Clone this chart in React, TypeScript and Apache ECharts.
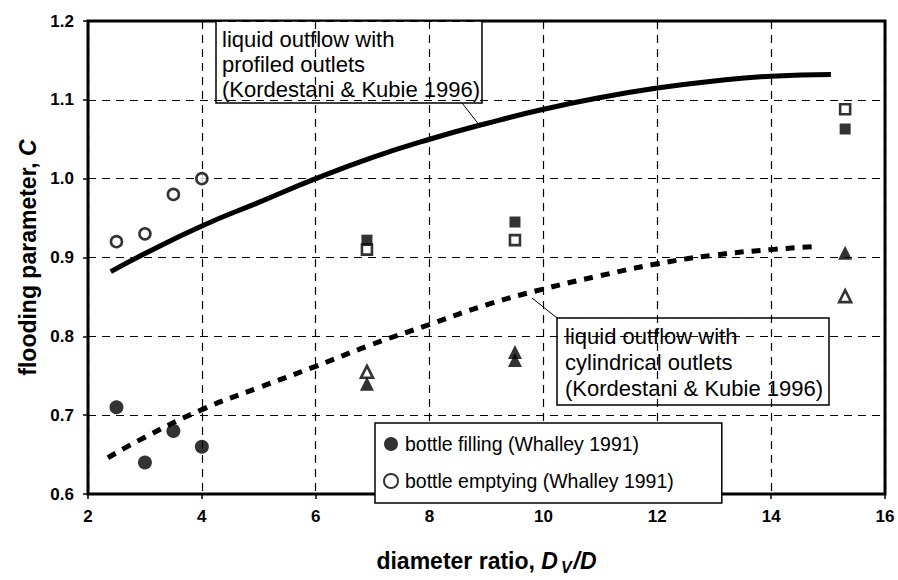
import React, { useEffect, useRef } from "react";
import * as echarts from "echarts";

// Model curves (Kordestani & Kubie 1996)
const profiledX = [2.4, 3, 4, 5, 6, 7, 8, 9, 10, 11, 12, 13, 14, 15.05];
const profiledY = [0.882, 0.905, 0.94, 0.97, 1.0, 1.027, 1.05, 1.07, 1.088, 1.103, 1.115, 1.124, 1.13, 1.132];
const cylX = [2.35, 3, 4, 5, 6, 7, 8, 9, 10, 11, 12, 13, 14, 14.8];
const cylY = [0.646, 0.672, 0.707, 0.735, 0.762, 0.79, 0.815, 0.84, 0.86, 0.877, 0.892, 0.903, 0.91, 0.914];

// Whalley 1991 bottle data
const fillingX = [2.5, 3, 3.5, 4];
const fillingY = [0.71, 0.64, 0.68, 0.66];
const emptyingX = [2.5, 3, 3.5, 4];
const emptyingY = [0.92, 0.93, 0.98, 1.0];

// other experimental points
const sqFilledX = [6.9, 9.5, 15.3];
const sqFilledY = [0.922, 0.945, 1.063];
const sqOpenX = [6.9, 9.5, 15.3];
const sqOpenY = [0.91, 0.922, 1.088];
const triFilledX = [6.9, 9.5, 9.5, 15.3];
const triFilledY = [0.74, 0.77, 0.78, 0.906];
const triOpenX = [6.9, 15.3];
const triOpenY = [0.755, 0.851];

const xTicks = [2, 4, 6, 8, 10, 12, 14, 16];

const zip = (xs: number[], ys: number[]) => xs.map((x, i) => [x, ys[i]]);

const FONT = "Liberation Sans, Arial, sans-serif";

export default function App() {
  const ref = useRef<HTMLDivElement>(null);
  useEffect(() => {
    if (!ref.current) return;
    const chart = echarts.init(ref.current, undefined, { renderer: "svg" });
    const option: any = {
      animation: false,
      backgroundColor: "#fff",
      textStyle: { fontFamily: FONT, color: "#000" },
      grid: {
        left: 88,
        right: 13,
        top: 21,
        bottom: 77,
        show: true,
        borderColor: "#000",
        borderWidth: 3,
        backgroundColor: "#fff",
      },
      xAxis: {
        type: "value",
        min: xTicks[0],
        max: xTicks[xTicks.length - 1],
        interval: 2,
        axisLine: { show: false },
        axisTick: { show: true, length: 5, lineStyle: { color: "#000", width: 1.5 } },
        axisLabel: { color: "#000", fontSize: 17, fontWeight: "bold", margin: 14, fontFamily: FONT },
        splitLine: { show: true, lineStyle: { color: "#000", width: 1.2, type: [8, 6] } },
        name: "diameter ratio, {i|D}{s|V}{i|/D}",
        nameLocation: "middle",
        nameGap: 52,
        nameTextStyle: {
          fontFamily: FONT,
          fontSize: 23,
          fontWeight: "bold",
          color: "#000",
          rich: {
            i: { fontFamily: FONT, fontSize: 23, fontWeight: "bold", fontStyle: "italic", color: "#000" },
            s: { fontFamily: FONT, fontSize: 16, fontWeight: "bold", fontStyle: "italic", color: "#000", padding: [13, 2, 0, 3] },
          },
        },
      },
      yAxis: {
        type: "value",
        min: 0.6,
        max: 1.2,
        interval: 0.1,
        axisLine: { show: false },
        axisTick: { show: true, length: 5, lineStyle: { color: "#000", width: 1.5 } },
        axisLabel: {
          color: "#000",
          fontSize: 17,
          fontWeight: "bold",
          margin: 14,
          fontFamily: FONT,
          formatter: (v: number) => v.toFixed(1),
        },
        splitLine: { show: true, lineStyle: { color: "#000", width: 1.2, type: [8, 6] } },
        name: "flooding parameter, {i|C}",
        nameLocation: "middle",
        nameGap: 47,
        nameRotate: 90,
        nameTextStyle: {
          fontFamily: FONT,
          fontSize: 23,
          fontWeight: "bold",
          color: "#000",
          rich: {
            i: { fontFamily: FONT, fontSize: 23, fontWeight: "bold", fontStyle: "italic", color: "#000" },
          },
        },
      },
      legend: {
        left: 375,
        top: 423,
        orient: "vertical",
        backgroundColor: "#fff",
        borderColor: "#000",
        borderWidth: 1.5,
        borderRadius: 0,
        padding: [10, 48, 11, 8],
        itemGap: 15,
        itemWidth: 18,
        itemHeight: 14,
        textStyle: { fontFamily: FONT, fontSize: 19.5, color: "#000", lineHeight: 22 },
        data: [
          { name: "bottle filling (Whalley 1991)", icon: "circle" },
          { name: "bottle emptying (Whalley 1991)", icon: "circle" },
        ],
        z: 20,
      },
      series: [
        {
          name: "profiled",
          type: "line",
          data: zip(profiledX, profiledY),
          smooth: true,
          showSymbol: false,
          symbol: "none",
          lineStyle: { color: "#000", width: 5 },
          z: 3,
        },
        {
          name: "cylindrical",
          type: "line",
          data: zip(cylX, cylY),
          smooth: true,
          showSymbol: false,
          symbol: "none",
          lineStyle: { color: "#000", width: 5, type: [9, 8] },
          z: 3,
        },
        {
          name: "bottle filling (Whalley 1991)",
          type: "scatter",
          data: zip(fillingX, fillingY),
          symbol: "circle",
          symbolSize: 14,
          itemStyle: { color: "#000" },
          z: 4,
        },
        {
          name: "bottle emptying (Whalley 1991)",
          type: "scatter",
          data: zip(emptyingX, emptyingY),
          symbol: "circle",
          symbolSize: 11,
          itemStyle: { color: "#fff", borderColor: "#000", borderWidth: 2.6 },
          z: 4,
        },
        {
          name: "squares filled",
          type: "scatter",
          data: zip(sqFilledX, sqFilledY),
          symbol: "rect",
          symbolSize: 11,
          itemStyle: { color: "#000" },
          z: 4,
        },
        {
          name: "squares open",
          type: "scatter",
          data: zip(sqOpenX, sqOpenY),
          symbol: "rect",
          symbolSize: 10,
          itemStyle: { color: "#fff", borderColor: "#000", borderWidth: 2.6 },
          z: 5,
        },
        {
          name: "triangles filled",
          type: "scatter",
          data: zip(triFilledX, triFilledY),
          symbol: "triangle",
          symbolSize: 14,
          itemStyle: { color: "#000" },
          z: 4,
        },
        {
          name: "triangles open",
          type: "scatter",
          data: zip(triOpenX, triOpenY),
          symbol: "triangle",
          symbolSize: 12,
          itemStyle: { color: "#fff", borderColor: "#000", borderWidth: 2.6 },
          z: 5,
        },
      ],
      graphic: [
        {
          type: "line",
          z: 99,
          shape: { x1: 462, y1: 103, x2: 480, y2: 126 },
          style: { stroke: "#000", lineWidth: 1 },
        },
        {
          type: "group",
          z: 100,
          children: [
            {
              type: "rect",
              shape: { x: 216, y: 21, width: 266, height: 82 },
              style: { fill: "#fff", stroke: "#000", lineWidth: 1.5 },
            },
            {
              type: "text",
              x: 222,
              y: 27,
              style: {
                text: "liquid outflow with\nprofiled outlets\n(Kordestani & Kubie 1996)",
                font: `22px ${FONT}`,
                fill: "#000",
                lineHeight: 25,
              },
            },
          ],
        },
        {
          type: "line",
          z: 99,
          shape: { x1: 557, y1: 318, x2: 532, y2: 298 },
          style: { stroke: "#000", lineWidth: 1 },
        },
        {
          type: "group",
          z: 100,
          children: [
            {
              type: "rect",
              shape: { x: 557, y: 318, width: 272, height: 87 },
              style: { fill: "#fff", stroke: "#000", lineWidth: 1.5 },
            },
            {
              type: "text",
              x: 565,
              y: 323,
              style: {
                text: "liquid outflow with\ncylindrical outlets\n(Kordestani & Kubie 1996)",
                font: `22px ${FONT}`,
                fill: "#000",
                lineHeight: 26,
              },
            },
          ],
        },
      ],
    };
    chart.setOption(option);
    return () => chart.dispose();
  }, []);
  return (
    <div
      ref={ref}
      style={{ position: "fixed", left: 0, top: 0, width: 898, height: 580, background: "#fff" }}
    />
  );
}
